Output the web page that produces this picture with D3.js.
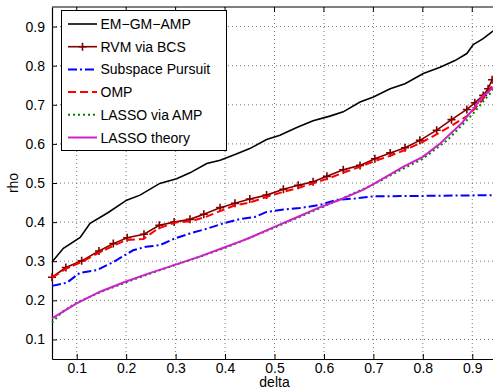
<!DOCTYPE html>
<html>
<head>
<meta charset="utf-8">
<script src="https://cdn.jsdelivr.net/npm/d3@7"></script>
<style>
  body { margin: 0; background: #fff; }
  svg { display: block; font-family: "Liberation Sans", Arial, sans-serif; }
</style>
</head>
<body>
<div id="chart"></div>
<script>
// phase transition curves
var emDelta = [0.05, 0.073, 0.107, 0.127, 0.163, 0.201, 0.228, 0.268, 0.302, 0.329, 0.363, 0.39, 0.424, 0.45, 0.484, 0.511, 0.545, 0.578, 0.612, 0.639, 0.673, 0.7, 0.734, 0.764, 0.801, 0.835, 0.865, 0.889, 0.902, 0.922, 0.939, 0.95];
var emRho = [0.298, 0.333, 0.361, 0.397, 0.424, 0.456, 0.469, 0.499, 0.511, 0.526, 0.55, 0.558, 0.575, 0.588, 0.611, 0.622, 0.642, 0.659, 0.671, 0.682, 0.707, 0.72, 0.741, 0.754, 0.78, 0.796, 0.813, 0.831, 0.854, 0.869, 0.886, 0.895];

var rvmDelta = [0.05, 0.078, 0.11, 0.145, 0.174, 0.202, 0.236, 0.267, 0.297, 0.329, 0.357, 0.39, 0.42, 0.45, 0.484, 0.518, 0.548, 0.578, 0.606, 0.639, 0.673, 0.703, 0.734, 0.764, 0.794, 0.828, 0.858, 0.889, 0.905, 0.922, 0.932, 0.94];
var rvmRho = [0.259, 0.284, 0.301, 0.326, 0.345, 0.36, 0.369, 0.392, 0.4, 0.407, 0.42, 0.437, 0.448, 0.459, 0.469, 0.484, 0.494, 0.503, 0.517, 0.534, 0.545, 0.562, 0.577, 0.59, 0.609, 0.635, 0.662, 0.688, 0.705, 0.724, 0.741, 0.764];

var spDelta = [0.05, 0.08, 0.106, 0.14, 0.174, 0.214, 0.24, 0.268, 0.298, 0.329, 0.363, 0.397, 0.43, 0.46, 0.484, 0.518, 0.551, 0.592, 0.626, 0.66, 0.7, 0.8, 0.95];
var spRho = [0.237, 0.245, 0.27, 0.277, 0.298, 0.328, 0.337, 0.341, 0.358, 0.371, 0.383, 0.397, 0.408, 0.413, 0.426, 0.432, 0.436, 0.444, 0.457, 0.46, 0.466, 0.467, 0.469];

var ompDelta = [0.05, 0.08, 0.11, 0.145, 0.175, 0.2, 0.235, 0.265, 0.3, 0.33, 0.36, 0.39, 0.42, 0.45, 0.485, 0.52, 0.55, 0.58, 0.61, 0.64, 0.67, 0.7, 0.735, 0.765, 0.795, 0.83, 0.86, 0.89, 0.905, 0.92, 0.935, 0.95];
var ompRho = [0.258, 0.282, 0.298, 0.322, 0.34, 0.354, 0.357, 0.384, 0.399, 0.402, 0.413, 0.428, 0.443, 0.45, 0.465, 0.478, 0.488, 0.5, 0.512, 0.527, 0.54, 0.555, 0.57, 0.585, 0.602, 0.626, 0.648, 0.672, 0.69, 0.712, 0.738, 0.77];

var lassoDelta = [0.05, 0.07, 0.1, 0.15, 0.2, 0.25, 0.3, 0.35, 0.4, 0.45, 0.5, 0.55, 0.6, 0.65, 0.7, 0.75, 0.8, 0.85, 0.9, 0.92, 0.95];
var lassoRho = [0.143, 0.17, 0.194, 0.222, 0.246, 0.269, 0.291, 0.312, 0.334, 0.36, 0.386, 0.413, 0.44, 0.468, 0.496, 0.53, 0.562, 0.61, 0.675, 0.705, 0.75];

var theoryDelta = [0.05, 0.1, 0.147, 0.197, 0.246, 0.297, 0.347, 0.398, 0.43, 0.45, 0.5, 0.55, 0.59, 0.63, 0.68, 0.7, 0.76, 0.8, 0.835, 0.88, 0.9, 0.92, 0.95];
var theoryRho = [0.154, 0.192, 0.222, 0.247, 0.269, 0.29, 0.311, 0.335, 0.35, 0.36, 0.388, 0.415, 0.437, 0.456, 0.483, 0.497, 0.541, 0.567, 0.601, 0.655, 0.686, 0.72, 0.752];

var xTicks = [0.1, 0.2, 0.3, 0.4, 0.5, 0.6, 0.7, 0.8, 0.9];
var yTicks = [0.1, 0.2, 0.3, 0.4, 0.5, 0.6, 0.7, 0.8, 0.9];

var series = [
  {name: "EM\u2212GM\u2212AMP", d: emDelta, r: emRho, color: "#000000", dash: null, width: 1.6},
  {name: "RVM via BCS", d: rvmDelta, r: rvmRho, color: "#800000", dash: null, width: 1.6, marker: true},
  {name: "Subspace Pursuit", d: spDelta, r: spRho, color: "#0000ff", dash: "9,3,2,3", width: 2},
  {name: "OMP", d: ompDelta, r: ompRho, color: "#ff0000", dash: "8,4", width: 2},
  {name: "LASSO via AMP", d: lassoDelta, r: lassoRho, color: "#008000", dash: "2,3", width: 2},
  {name: "LASSO theory", d: theoryDelta, r: theoryRho, color: "#cc22cc", dash: null, width: 2}
];

var W = 493, H = 391;
var mLeft = 52, mTop = 7, mRight = 497, mBottom = 359;

var svg = d3.select("#chart").append("svg")
    .attr("width", W)
    .attr("height", H);

var x = d3.scaleLinear().domain([0.05, 0.95]).range([mLeft, mRight]);
var y = d3.scaleLinear().domain([0.05, 0.95]).range([mBottom, mTop]);

// grid
svg.append("g").selectAll("line")
    .data(xTicks).enter().append("line")
    .attr("x1", d => x(d)).attr("x2", d => x(d))
    .attr("y1", mTop).attr("y2", mBottom)
    .attr("stroke", "#555").attr("stroke-width", 0.8)
    .attr("stroke-dasharray", "1,3");
svg.append("g").selectAll("line")
    .data(yTicks).enter().append("line")
    .attr("x1", mLeft).attr("x2", mRight)
    .attr("y1", d => y(d)).attr("y2", d => y(d))
    .attr("stroke", "#555").attr("stroke-width", 0.8)
    .attr("stroke-dasharray", "1,3");

// axes
var xAxis = svg.append("g")
    .attr("transform", "translate(0," + mBottom + ")")
    .call(d3.axisBottom(x).tickValues(xTicks).tickSizeInner(-5).tickSizeOuter(0).tickPadding(4).tickFormat(d3.format(".1f")));
var yAxis = svg.append("g")
    .attr("transform", "translate(" + mLeft + ",0)")
    .call(d3.axisLeft(y).tickValues(yTicks).tickSizeInner(-5).tickSizeOuter(0).tickPadding(7).tickFormat(d3.format(".1f")));
[xAxis, yAxis].forEach(function(g) {
  g.select(".domain").attr("stroke", "#000").attr("stroke-width", 1.2);
  g.selectAll("text").attr("font-size", 14).attr("fill", "#000")
    .attr("font-family", "Liberation Sans, Arial, sans-serif");
});
// top ticks + top border
svg.append("line").attr("x1", mLeft).attr("x2", W).attr("y1", mTop).attr("y2", mTop)
    .attr("stroke", "#000").attr("stroke-width", 1.2);
svg.append("g").selectAll("line")
    .data(xTicks).enter().append("line")
    .attr("x1", d => x(d)).attr("x2", d => x(d))
    .attr("y1", mTop).attr("y2", mTop + 5)
    .attr("stroke", "#000");

svg.append("text").attr("x", (mLeft + mRight) / 2).attr("y", 387)
    .attr("text-anchor", "middle").attr("font-size", 14).text("delta");
svg.append("text").attr("transform", "translate(18," + ((mTop + mBottom) / 2) + ") rotate(-90)")
    .attr("text-anchor", "middle").attr("font-size", 14).text("rho");

// curves
var plot = svg.append("g");
var line = d3.line().x(d => x(d[0])).y(d => y(d[1]));
series.forEach(function(s) {
  var pts = s.d.map((v, i) => [v, s.r[i]]);
  plot.append("path")
      .datum(pts)
      .attr("d", line)
      .attr("fill", "none")
      .attr("stroke", s.color)
      .attr("stroke-width", s.width)
      .attr("stroke-dasharray", s.dash);
  if (s.marker) {
    plot.selectAll(null).data(pts).enter().append("path")
        .attr("d", d => "M" + (x(d[0]) - 4) + "," + y(d[1]) + "h8M" + x(d[0]) + "," + (y(d[1]) - 4) + "v8")
        .attr("stroke", s.color).attr("stroke-width", 1.6);
  }
});

// legend
var lg = svg.append("g");
lg.append("rect").attr("x", 61.5).attr("y", 10.5).attr("width", 165).attr("height", 140)
    .attr("fill", "#fff").attr("stroke", "#000").attr("stroke-width", 1);
series.forEach(function(s, i) {
  var ly = 24 + i * 22.7;
  lg.append("line").attr("x1", 68).attr("x2", 97).attr("y1", ly).attr("y2", ly)
      .attr("stroke", s.color).attr("stroke-width", s.width)
      .attr("stroke-dasharray", s.dash);
  if (s.marker) {
    lg.append("path").attr("d", "M78.5," + ly + "h8M82.5," + (ly - 4) + "v8")
        .attr("stroke", s.color).attr("stroke-width", 1.6);
  }
  lg.append("text").attr("x", 100.5).attr("y", ly + 5)
      .attr("font-size", 14).text(s.name);
});
</script>
</body>
</html>
